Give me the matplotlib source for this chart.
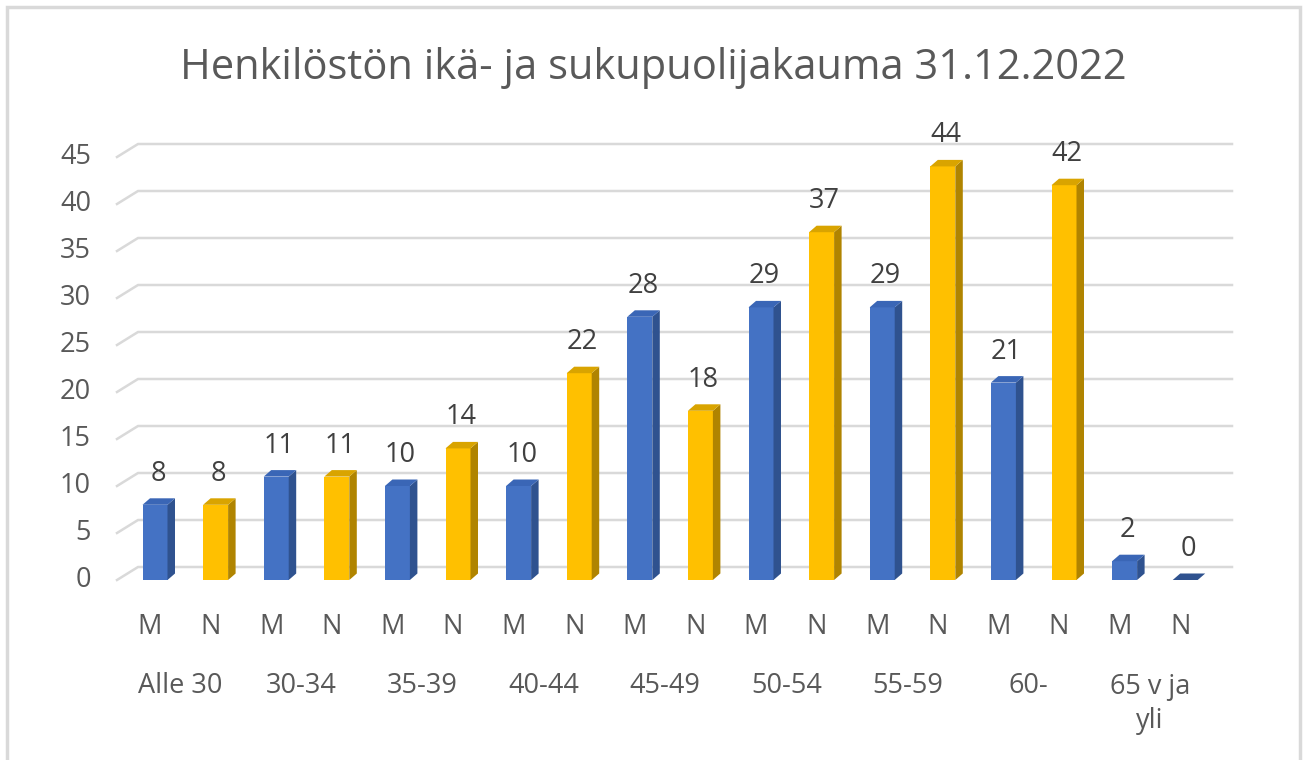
import matplotlib
matplotlib.use('Agg')
import matplotlib.pyplot as plt
from matplotlib.patches import Polygon, Rectangle

plt.rcParams['font.family'] = ['Open Sans', 'DejaVu Sans']

# data
groups = ['Alle 30', '30-34', '35-39', '40-44', '45-49', '50-54', '55-59', '60-', '65 v ja\nyli']
sexes = ['M', 'N']
values = [8, 8, 11, 11, 10, 14, 10, 22, 28, 18, 29, 37, 29, 44, 21, 42, 2, 0]
yticks = [0, 5, 10, 15, 20, 25, 30, 35, 40, 45]
title = 'Henkilöstön ikä- ja sukupuolijakauma 31.12.2022'

front = {'M': '#4472C4', 'N': '#FFC000'}
side = {'M': '#2F528F', 'N': '#B08400'}
top = {'M': '#3A66B6', 'N': '#D9A400'}

W, H = 1303, 760
fig = plt.figure(figsize=(W / 100, H / 100), dpi=100)
fig.patch.set_facecolor('white')

# axes placed in pixel terms: bar i centre at x=155+60.6*i, value 0 at y=580, 9.4 px per unit
sx, sy = 60.6, 9.4
x0px, y0px = 155, 580
ax = fig.add_axes([0, 0, 1, 1])
ax.set_xlim((0 - x0px) / sx, (W - x0px) / sx)
ax.set_ylim((y0px - H) / sy, (y0px - 0) / sy)
ax.axis('off')

def px(dx):
    return dx / sx

def py(dy):
    return dy / sy

fs = 19.5

# border
ax.add_patch(Rectangle((px(7 - x0px), py(y0px - 790)), px(1300 - 7), py(790 - 7),
                       fill=False, ec='#d9d9d9', lw=2.5, zorder=0))

# gridlines with 3d floor offset
gx0 = px(117 - x0px)
gx1 = px(1232 - x0px)
bdx, bdy = px(21), py(13)
for v in yticks:
    ax.plot([gx0, gx0 + bdx, gx1], [v, v + bdy, v + bdy], color='#d9d9d9', lw=1.8, zorder=1)
    ax.text(px(91 - x0px), v, str(v), ha='right', va='center', fontsize=fs, color='#595959')

# bars
bw = px(25)
ddx, ddy = px(7.5), py(6.5)
for i, v in enumerate(values):
    s = sexes[i % 2]
    if i == len(values) - 1 and v == 0:
        s = 'M'
    xl = i - bw / 2
    xr = i + bw / 2
    if v > 0:
        ax.bar(i, v, width=bw, color=front[s], zorder=3, linewidth=0)
        ax.add_patch(Polygon([(xr, 0), (xr + ddx, ddy), (xr + ddx, v + ddy), (xr, v)],
                             closed=True, fc=side[s], ec='none', zorder=3))
    ax.add_patch(Polygon([(xl, v), (xr, v), (xr + ddx, v + ddy), (xl + ddx, v + ddy)],
                         closed=True, fc=top[s] if v > 0 else side[s], ec='none', zorder=3))
    ax.text(i + px(3), v + py(31), str(v), ha='center', va='center', fontsize=fs, color='#404040')
    ax.text(i - px(5), py(580 - 627), sexes[i % 2], ha='center', va='center', fontsize=fs, color='#595959')

for g, name in enumerate(groups):
    xc = 2 * g + 0.5 - px(5)
    ax.text(xc, py(580 - 704) if '\n' in name else py(580 - 686), name, ha='center', va='center',
            fontsize=fs, color='#595959', linespacing=1.3)

ax.text(px(653 - x0px), py(580 - 68), title, ha='center', va='center', fontsize=30, color='#595959')

fig.savefig('out.png', dpi=100)
